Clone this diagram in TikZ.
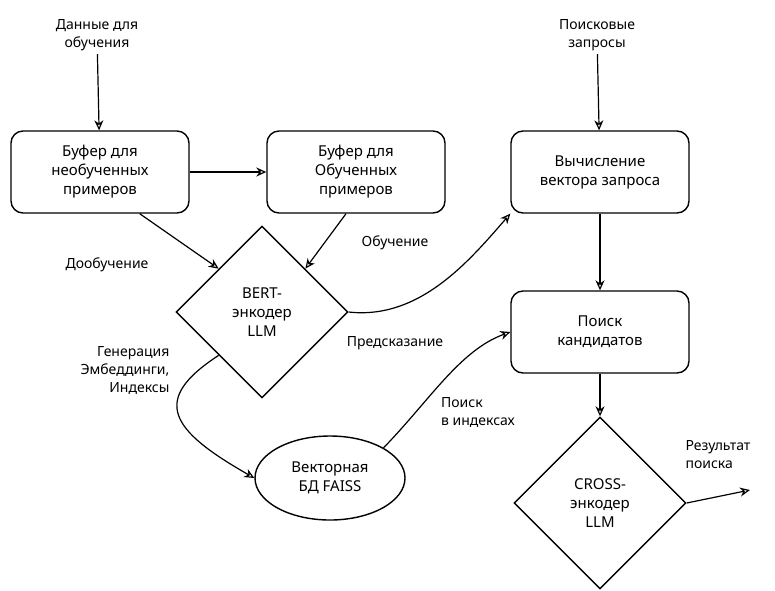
\documentclass[tikz,border=0pt]{standalone}
\usepackage{fontspec}
\setmainfont{Noto Sans}
\usetikzlibrary{shapes.geometric,arrows.meta}
\tikzset{
  box/.style={draw, line width=1.4pt, rounded corners=12pt, minimum width=178pt, minimum height=82pt, align=center, font=\fontsize{15}{19}\selectfont},
  rhomb/.style={draw, line width=1.4pt, diamond, aspect=1, minimum width=172pt, minimum height=172pt, align=center, inner sep=0pt, font=\fontsize{15}{19}\selectfont},
  oval/.style={draw, line width=1.4pt, ellipse, minimum width=150pt, minimum height=84pt, align=center, font=\fontsize{15}{19}\selectfont},
  lbl/.style={align=center, font=\fontsize{14}{18}\selectfont},
  arr/.style={line width=1.2pt, -{Stealth[open,length=10pt,width=9pt]}}
}
\begin{document}
\begin{tikzpicture}[x=1pt,y=-1pt]
\useasboundingbox (0,0) rectangle (775,590);
% sources
\node[lbl] (data) at (97,35) {Данные для\\обучения};
\node[lbl] (query) at (597,35) {Поисковые\\запросы};
% boxes
\node[box] (buf1) at (100,172) {Буфер для\\необученных\\примеров};
\node[box] (buf2) at (356,172) {Буфер для\\Обученных\\примеров};
\node[box] (vec) at (600,172) {Вычисление\\вектора запроса};
\node[box] (cand) at (600,332) {Поиск\\кандидатов};
\node[rhomb] (bert) at (262,312) {BERT-\\энкодер\\LLM};
\node[oval] (faiss) at (330,478) {Векторная\\БД FAISS};
\node[rhomb] (cross) at (600,503) {CROSS-\\энкодер\\LLM};
\coordinate (out) at (750,490);
% connectors
\draw[arr] (data) -- (buf1);
\draw[arr] (query) -- (vec);
\draw[arr] (buf1) -- (buf2);
\draw[arr] (buf1.south east) ++(-50,0) -- (bert.north west);
\draw[arr] (buf2.south) ++(-10,0) -- (bert.north east);
\draw[arr] (bert.east) .. controls (420,320) and (470,260) .. (vec.south west);
\draw[arr] (vec) -- (cand);
\draw[arr] (bert.south west) .. controls (150,400) and (170,430) .. (faiss.west);
\draw[arr] (faiss.north east) .. controls (430,400) and (460,350) .. (cand.west);
\draw[arr] (cand) -- (cross);
\draw[arr] (cross.east) -- (out);
% labels
\node[lbl] (l1) at (107,265) {Дообучение};
\node[lbl] (l2) at (395,243) {Обучение};
\node[lbl] (l3) at (395,343) {Предсказание};
\node[lbl, align=right] (l4) at (125,370) {Генерация\\Эмбеддинги,\\Индексы};
\node[lbl, align=left] (l5) at (478,412) {Поиск\\в индексах};
\node[lbl, align=left] (l6) at (718,455) {Результат\\поиска};
\end{tikzpicture}
\end{document}
